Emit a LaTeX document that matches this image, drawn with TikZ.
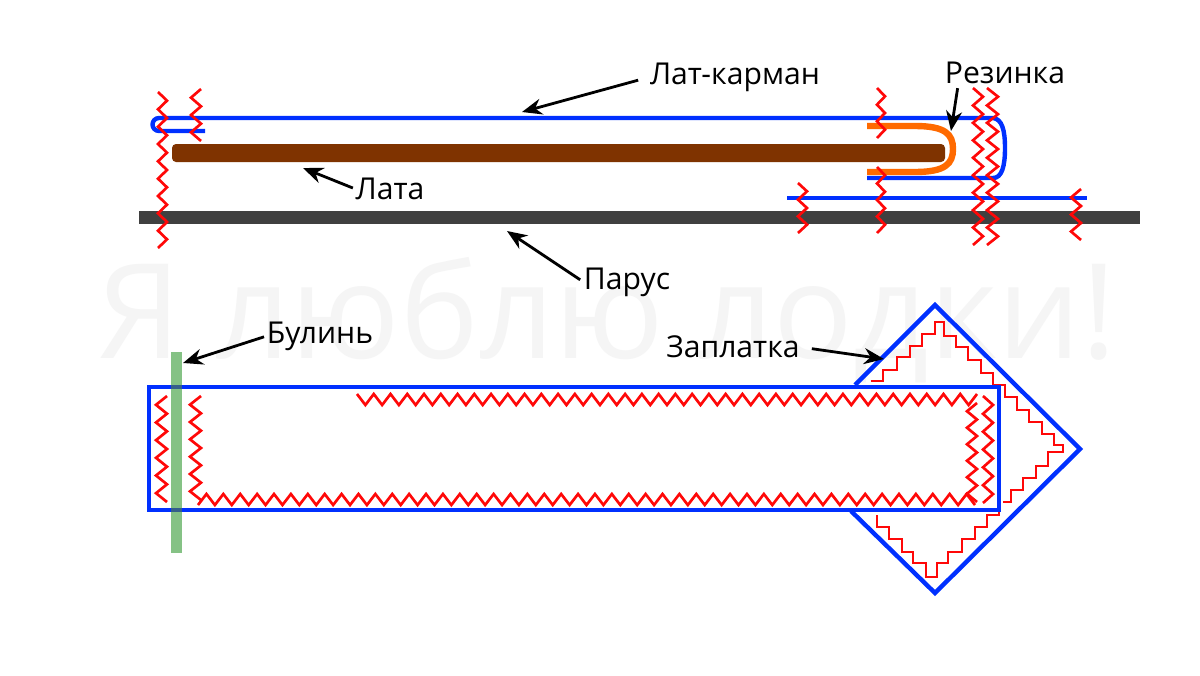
\documentclass[tikz,border=0pt]{standalone}
\usepackage{fontspec}
\setmainfont{Open Sans}
\usetikzlibrary{arrows.meta}
\definecolor{bluec}{HTML}{0030FF}
\definecolor{redc}{HTML}{FF0808}
\definecolor{brownc}{HTML}{7F3300}
\definecolor{orangec}{HTML}{FF6A00}
\definecolor{grayc}{HTML}{404040}
\definecolor{greenc}{HTML}{7FBF7F}
\tikzset{
  bl/.style={draw=bluec,line width=3.3pt},
  zig/.style={draw=redc,line width=2pt,line join=miter},
  stair/.style={draw=redc,line width=1.6pt,line join=miter},
  lab/.style={font=\fontsize{22.6}{26}\selectfont,text=black,inner sep=0pt},
  arr/.style={draw=black,line width=2.1pt,-{Stealth[length=15pt,width=12pt]}},
}
% vertical zigzag: x a, x b, y start, y end, number of segments
\newcommand{\zigv}[5]{\draw[zig] (#1,#3) foreach \i in {1,...,#5} { -- ({ifthenelse(mod(\i,2)==1,#2,#1)},{#3+(#4-#3)/#5*\i}) };}
% horizontal zigzag: y a, y b, x start, x end, number of segments
\newcommand{\zigh}[5]{\draw[zig] (#3,#1) foreach \i in {1,...,#5} { -- ({#3+(#4-#3)/#5*\i},{ifthenelse(mod(\i,2)==1,#2,#1)}) };}
\begin{document}
\begin{tikzpicture}[x=0.75pt,y=-0.75pt]
\useasboundingbox (0,0) rectangle (1200,675);
\fill[white] (0,0) rectangle (1200,675);
% watermark
\node[inner sep=0pt,text=black!4,font=\fontsize{99}{110}\selectfont] (wm) at (607,320) {Я люблю лодки!};
% upper drawing
\fill[grayc] (139,211) rectangle (1140,224);
\fill[brownc,rounded corners=3pt] (172,144) rectangle (945,162);
\draw[bl] (205,131) -- (159,131) arc[start angle=270,end angle=90,x radius=6.5,y radius=-6.5] -- (993,118)
  .. controls (1002,119) and (1005,130) .. (1005,148) .. controls (1005,166) and (1002,178) .. (993,178) -- (867,178);
\draw[bl] (787,198) -- (1087,198);
\draw[draw=orangec,line width=4.8pt] (867,126) -- (915,126) .. controls (945,126) and (953,134) .. (953,149) .. controls (953,164) and (945,172) .. (915,172) -- (867,172);
\zigv{158}{167}{92}{248}{18}
\zigv{201}{191}{89}{141}{6}
\zigv{877}{885}{88}{138}{6}
\zigv{877}{885}{167}{233}{8}
\zigv{973}{983}{88}{245}{18}
\zigv{987}{998}{88}{245}{18}
\zigv{798}{807}{183}{233}{6}
\zigv{1081}{1071}{189}{240}{6}
% lower drawing
\draw[bl] (855,385) -- (935,305) -- (1080,449) -- (935,593) -- (851,511);
\draw[stair] (870.7,381) -- (883,381) -- (883,370) -- (897,370) -- (897,357.3) -- (910,357.3) -- (910,345.7) -- (922.3,345.7) -- (922.3,334.3) -- (935,334.3) -- (935,322.3) -- (944,322.3) -- (944,335.7) -- (955.7,335.7) -- (955.7,347.3) -- (968.3,347.3) -- (968.3,360) -- (980.7,360) -- (980.7,373.3) -- (993.3,373.3) -- (993.3,385) -- (1005,385) -- (1005,396.7) -- (1016.7,396.7) -- (1016.7,410) -- (1029,410) -- (1029,421.7) -- (1041.7,421.7) -- (1041.7,434) -- (1054,434) -- (1054,445) -- (1062.7,445) -- (1062.7,451.7) -- (1048.3,451.7) -- (1048.3,465.7) -- (1035.7,465.7) -- (1035.7,477.7) -- (1023.3,477.7) -- (1023.3,490) -- (1010.7,490) -- (1010.7,502.3) -- (1003.3,502.3);
\draw[stair] (999.3,511.7) -- (999.3,515) -- (987.3,515) -- (987.3,527.3) -- (975,527.3) -- (975,539.3) -- (962.3,539.3) -- (962.3,551.7) -- (948.3,551.7) -- (948.3,563.3) -- (936.7,563.3) -- (936.7,576.7) -- (925.7,576.7) -- (925.7,563.3) -- (913.3,563.3) -- (913.3,551.7) -- (901.7,551.7) -- (901.7,539.3) -- (889,539.3) -- (889,526.7) -- (876.7,526.7) -- (876.7,515);
\zigv{167}{156}{396}{502}{12}
\zigv{201}{190}{396}{500}{12}
\zigv{977}{967}{403}{502}{12}
\zigv{983}{993}{396}{503}{12}
\zigh{505}{494}{198}{975}{92}
\zigh{394}{405}{357}{977}{74}
\draw[draw=bluec,line width=3.5pt,line cap=rect] (149,387) rectangle (999,510);
\fill[greenc,opacity=.95] (171,352) rectangle (182,553);
\fill[bluec!45!greenc!75!black] (171,385) rectangle (182,389);
\fill[bluec!45!greenc!75!black] (171,508) rectangle (182,512);
% labels and arrows
\node[lab] (latk) at (735,77) {Лат-карман};
\node[lab] (rez) at (1005,73) {Резинка};
\node[lab] (lata) at (390,189) {Лата};
\node[lab] (parus) at (627,282) {Парус};
\node[lab] (bul) at (320,336) {Булинь};
\node[lab] (zap) at (733,347) {Заплатка};
\coordinate (tLatk) at (522,112);
\coordinate (tRez) at (951,131);
\coordinate (tLata) at (303,168);
\coordinate (tParus) at (507,231);
\coordinate (tBul) at (183,363);
\coordinate (tZap) at (884,359);
\draw[arr,shorten <=9pt] (latk.west) -- (tLatk);
\draw[arr] (rez.south west) ++(13,4) -- (tRez);
\draw[arr,shorten <=2pt] (lata.west) -- (tLata);
\draw[arr,shorten <=3pt] (parus.west) -- (tParus);
\draw[arr,shorten <=2pt] (bul.west) -- (tBul);
\draw[arr,shorten <=9pt] (zap.east) -- (tZap);
\end{tikzpicture}
\end{document}
